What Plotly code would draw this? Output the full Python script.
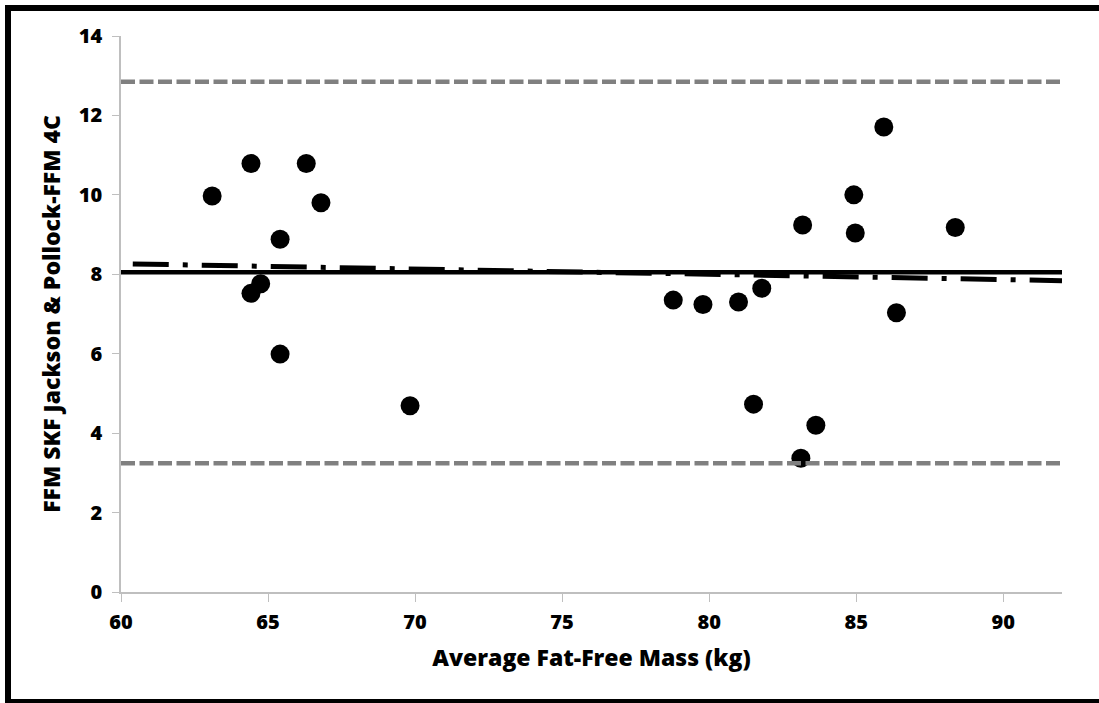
import plotly.graph_objects as go

# Data
avg_ffm = [63.1, 64.42, 66.3, 66.8, 65.41, 64.75, 64.42, 65.41, 69.83,
           78.78, 79.79, 81.0, 81.79, 81.51, 83.63, 83.12,
           85.94, 84.92, 83.18, 84.97, 88.37, 86.37]
diff_ffm = [9.97, 10.79, 10.79, 9.8, 8.88, 7.76, 7.52, 5.99, 4.69,
            7.35, 7.24, 7.30, 7.65, 4.73, 4.20, 3.37,
            11.71, 10.0, 9.24, 9.04, 9.18, 7.03]

x_range = [60, 92]
mean_bias = 8.05
upper_loa = 12.85
lower_loa = 3.24
reg_x = [60.4, 92]
reg_y = [8.26, 7.84]

x_ticks = [60, 65, 70, 75, 80, 85, 90]
y_ticks = [0, 2, 4, 6, 8, 10, 12, 14]
x_title = "Average Fat-Free Mass (kg)"
y_title = "FFM SKF Jackson &amp; Pollock-FFM 4C"

FONT = "Open Sans"

fig = go.Figure()

fig.add_trace(go.Scatter(
    x=avg_ffm, y=diff_ffm, mode="markers",
    marker=dict(color="black", size=19, line=dict(width=0)),
    showlegend=False, hoverinfo="x+y"))

fig.add_trace(go.Scatter(
    x=x_range, y=[upper_loa, upper_loa], mode="lines",
    line=dict(color="#808080", width=4.5, dash="14px,4.5px"),
    showlegend=False))
fig.add_trace(go.Scatter(
    x=x_range, y=[lower_loa, lower_loa], mode="lines",
    line=dict(color="#808080", width=4.5, dash="14px,4.5px"),
    showlegend=False))
fig.add_trace(go.Scatter(
    x=x_range, y=[mean_bias, mean_bias], mode="lines",
    line=dict(color="black", width=4.5),
    showlegend=False))
fig.add_trace(go.Scatter(
    x=reg_x, y=reg_y, mode="lines",
    line=dict(color="black", width=5, dash="36px,14px,5px,14px"),
    showlegend=False))

L, R, T, B = 121, 37, 36, 111
W, H = 1099, 703
pw, ph = W - L - R, H - T - B

def px_x(p):
    return (p - L) / pw

def px_y(p):
    return (H - B - p) / ph

frame = dict(color="black", width=6)
# left, top, bottom edges of the outer frame (right edge lies outside the picture)
fig.add_shape(type="line", xref="paper", yref="paper",
              x0=px_x(8), x1=px_x(8), y0=px_y(703), y1=px_y(5), line=frame, layer="above")
fig.add_shape(type="line", xref="paper", yref="paper",
              x0=px_x(5), x1=px_x(1099), y0=px_y(8), y1=px_y(8), line=frame, layer="above")
fig.add_shape(type="line", xref="paper", yref="paper",
              x0=px_x(5), x1=px_x(1099), y0=px_y(702), y1=px_y(702), line=frame, layer="above")

fig.update_layout(
    width=W, height=H,
    margin=dict(l=L, r=R, t=T, b=B),
    paper_bgcolor="white", plot_bgcolor="white",
    font=dict(family=FONT, color="black"),
    xaxis=dict(
        range=x_range, tickvals=x_ticks,
        ticks="outside", ticklen=8, ticklabelstandoff=3,
        tickcolor="#bfbfbf", showline=True, linecolor="#bfbfbf", linewidth=1.5,
        showgrid=False, zeroline=False,
        tickfont=dict(family=FONT, size=20, weight=800, color="black"),
        title=dict(text=x_title,
                   font=dict(family=FONT, size=23, weight=800, color="black"),
                   standoff=16),
    ),
    yaxis=dict(
        range=[0, 14], tickvals=y_ticks,
        ticks="outside", ticklen=7, ticklabelstandoff=6,
        tickcolor="#bfbfbf", showline=True, linecolor="#bfbfbf", linewidth=1.5,
        showgrid=False, zeroline=False,
        tickfont=dict(family=FONT, size=20, weight=800, color="black"),
        title=dict(text=y_title,
                   font=dict(family=FONT, size=23, weight=800, color="black"),
                   standoff=12),
    ),
)

fig.write_html("out.html")
